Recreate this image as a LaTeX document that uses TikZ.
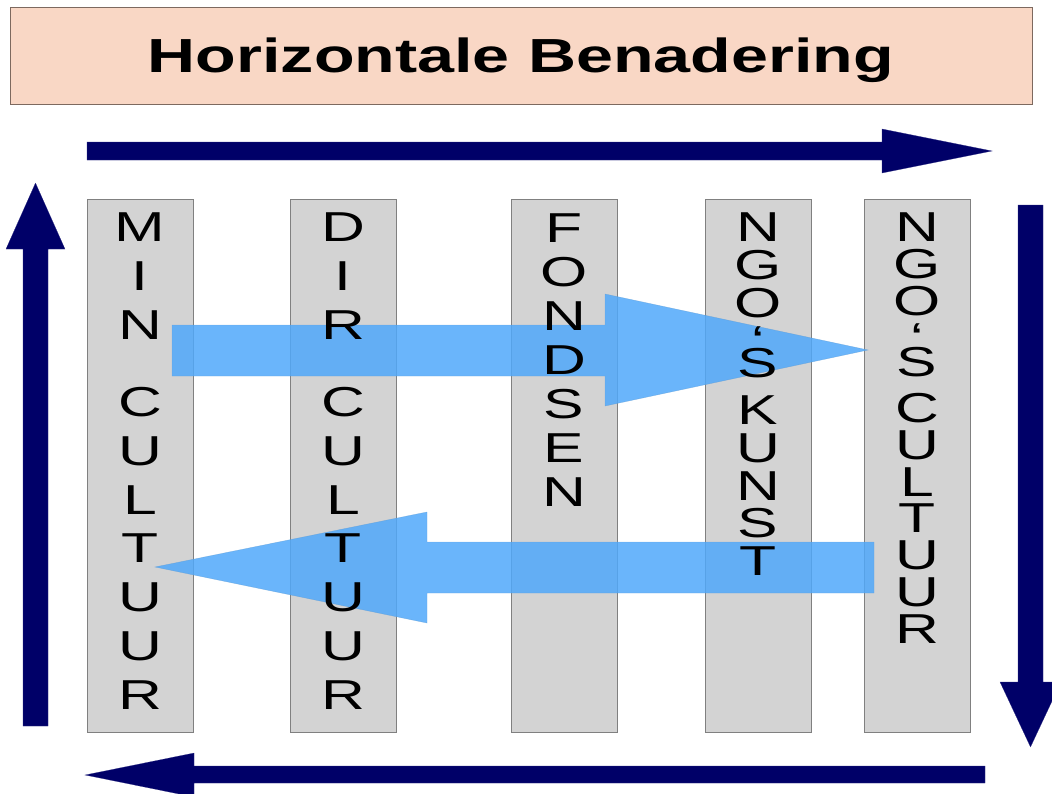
\documentclass[tikz,border=0pt]{standalone}
\usepackage{fontspec}
\setmainfont{Liberation Sans}
\newfontfamily\widefont[FakeStretch = 1.45]{Liberation Sans}
\newfontfamily\headfont[FakeStretch = 1.39]{Liberation Sans}

\definecolor{peach}{RGB}{249,215,197}
\definecolor{peachline}{RGB}{125,105,95}
\definecolor{colgray}{RGB}{211,211,211}
\definecolor{colline}{RGB}{128,128,128}
\definecolor{navy}{RGB}{0,0,104}
\definecolor{skyblue}{RGB}{80,168,250}

\tikzset{
  column/.style = {draw = colline, fill = colgray, minimum width = 106bp, minimum height = 533bp, inner sep = 0},
  letters/.style = {anchor = north, align = center, inner sep = 0},
  flow/.style = {fill = skyblue, fill opacity = .85, draw = skyblue!70!gray, draw opacity = .6, thin},
  cycle arrow/.style = {fill = navy, draw = navy!80!white, very thin}
}

\begin{document}
\begin{tikzpicture}[x = 1bp, y = -1bp]

    \useasboundingbox (0,0) rectangle (1052,794);
    \node [draw = peachline, fill = peach, minimum width = 1022bp, minimum height = 97bp, inner sep = 0, text depth = 0bp,
      font = \headfont\bfseries\fontsize{48}{52}\selectfont] (head) at (521,55.5) {Horizontale Benadering};

    \fill [cycle arrow] (87,142) -- (882,142) -- (882,129) -- (992,151) -- (882,173) -- (882,160) -- (87,160) -- cycle;
    \fill [cycle arrow] (1018,205) -- (1018,682) -- (1000,682) -- (1030.5,747) -- (1061,682) -- (1043,682) -- (1043,205) -- cycle;
    \fill [cycle arrow] (985,766) -- (194,766) -- (194,753) -- (85,775) -- (194,797) -- (194,783) -- (985,783) -- cycle;
    \fill [cycle arrow] (23,726) -- (23,249) -- (6,249) -- (35.5,183) -- (65,249) -- (48,249) -- (48,726) -- cycle;

    \foreach \n/\x in {min/140, dir/343, fonds/564, kunst/758, cult/917} {
      \node [column] (\n) at (\x,465.5) {};
    }

    \filldraw [flow] (172,325) -- (605,325) -- (605,294) -- (868,350) -- (605,406) -- (605,376) -- (172,376) -- cycle;
    \filldraw [flow] (874,542) -- (427,542) -- (427,512) -- (155,567) -- (427,623) -- (427,593) -- (874,593) -- cycle;

    \node [letters, font = \widefont\fontsize{42}{49}\selectfont] (mintxt) at (140,213)
      {M\\I\\N\\[28bp]C\\U\\L\\T\\U\\U\\R};
    \node [letters, font = \widefont\fontsize{42}{49}\selectfont] (dirtxt) at (343,213)
      {D\\I\\R\\[28bp]C\\U\\L\\T\\U\\U\\R};
    \node [letters, font = \widefont\fontsize{42}{44}\selectfont] (fondstxt) at (564,214)
      {F\\O\\N\\D\\S\\E\\N};
    \node [letters, font = \widefont\fontsize{42}{38}\selectfont] (kunsttxt) at (758,213)
      {N\\G\\O\\‘\\[-16bp]S\\[9bp]K\\U\\N\\S\\T};
    \node [letters, font = \widefont\fontsize{42}{37}\selectfont] (culttxt) at (917,213)
      {N\\G\\O\\‘\\[-13bp]S\\[9bp]C\\U\\L\\T\\U\\U\\R};
    \end{tikzpicture}
\end{document}
